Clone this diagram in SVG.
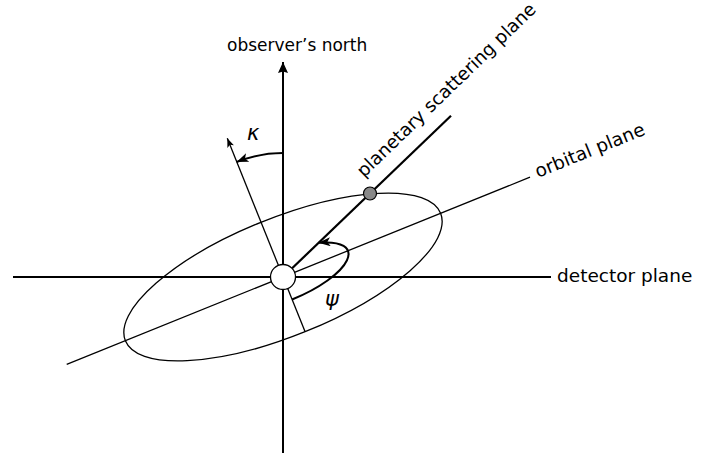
<svg xmlns="http://www.w3.org/2000/svg" width="721" height="457" viewBox="0 0 721 457">
<style>
  .lbl { font-family: "DejaVu Sans", Verdana, sans-serif; fill: #000; }
  .sym { font-family: "DejaVu Sans", Verdana, sans-serif; font-style: italic; fill: #000; }
  .thin { stroke: #000; stroke-width: 1.3; fill: none; }
  .thick { stroke: #000; stroke-width: 2; fill: none; }
</style>
<defs>
  <marker id="axisArrow" markerUnits="userSpaceOnUse" markerWidth="12" markerHeight="10" refX="11" refY="5" orient="auto">
    <path d="M0,0 L11,5 L0,10 L1.5,5 z" fill="#000"/>
  </marker>
  <marker id="arcArrow" markerUnits="userSpaceOnUse" markerWidth="13" markerHeight="10" refX="12" refY="4.5" orient="auto">
    <path d="M0,0 L12,4.5 L0,9 L3,4.5 z" fill="#000"/>
  </marker>
  <marker id="smallArrow" markerUnits="userSpaceOnUse" markerWidth="10" markerHeight="8" refX="9" refY="3.5" orient="auto">
    <path d="M0,0 L9,3.5 L0,7 L2,3.5 z" fill="#000"/>
  </marker>
</defs>
<rect width="721" height="457" fill="#fff"/>
<g id="connectors">
  <ellipse class="thin" cx="283" cy="277" rx="170" ry="59" transform="rotate(-22 283 277)"/>
  <line class="thin" x1="66.7" y1="364.4" x2="530" y2="177.2"/>
  <line class="thick" x1="13" y1="277" x2="551" y2="277"/>
  <line class="thick" x1="283" y1="453" x2="283" y2="62" marker-end="url(#axisArrow)"/>
  <line class="thin" x1="305.1" y1="331.7" x2="227.3" y2="138.3" marker-end="url(#smallArrow)"/>
  <line class="thick" x1="283" y1="277" x2="451" y2="115.7" style="stroke-width:2.2"/>
  <path class="thick" d="M283,153 A124,124 0 0 0 236.6,162" marker-end="url(#arcArrow)"/>
  <path class="thick" d="M292.1,299.5 A70,24.3 -22 0 0 318.4,242.8" marker-end="url(#arcArrow)"/>
</g>
<g id="star">
  <circle cx="283" cy="277" r="12.5" fill="#fff" stroke="#000" stroke-width="1.3"/>
</g>
<g id="planet">
  <circle cx="370" cy="193.5" r="6.5" fill="#888" stroke="#000" stroke-width="1.2"/>
</g>
<g id="label-north">
  <text class="lbl" x="227" y="51" font-size="17">observer’s north</text>
</g>
<g id="label-detector">
  <text class="lbl" x="557" y="282" font-size="18.5">detector plane</text>
</g>
<g id="label-orbital">
  <text class="lbl" x="538" y="178" font-size="18.5" transform="rotate(-22 538 178)">orbital plane</text>
</g>
<g id="label-scattering">
  <text class="lbl" x="364" y="178" font-size="18.2" transform="rotate(-44 364 178)">planetary scattering plane</text>
</g>
<g id="label-kappa">
  <text class="sym" x="247" y="140" font-size="21">κ</text>
</g>
<g id="label-psi">
  <text class="sym" x="325" y="306" font-size="21">ψ</text>
</g>
</svg>
